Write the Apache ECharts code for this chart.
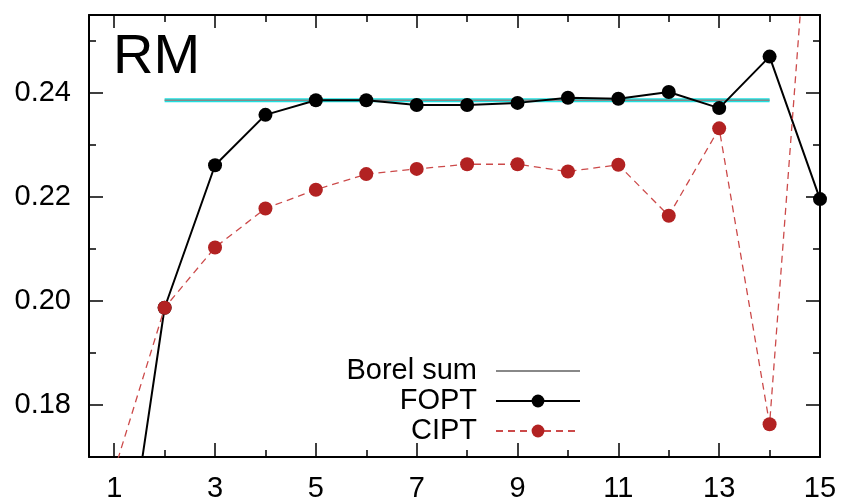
<!DOCTYPE html>
<html>
<head>
<meta charset="utf-8">
<script src="https://cdn.jsdelivr.net/npm/echarts@6/dist/echarts.min.js"></script>
<style>
html,body{margin:0;padding:0;background:#fff;}
#chart{width:842px;height:497px;}
</style>
</head>
<body>
<div id="chart"></div>
<script>
// Data
var orders = [1, 2, 3, 4, 5, 6, 7, 8, 9, 10, 11, 12, 13, 14, 15];
var foptValues = [0.1334, 0.1987, 0.2261, 0.2358, 0.2386, 0.2386, 0.2377, 0.2377, 0.2381, 0.2391, 0.2389, 0.2402, 0.2371, 0.2470, 0.2196];
var ciptValues = [0.1673, 0.1987, 0.2103, 0.2178, 0.2214, 0.2244, 0.2254, 0.2263, 0.2263, 0.2249, 0.2262, 0.2164, 0.2332, 0.1763, 0.3060];
var borelX = [2, 14];
var borelValue = 0.2386;
var xMajorTicks = [1, 3, 5, 7, 9, 11, 13, 15];
var xMinorTicks = [2, 4, 6, 8, 10, 12, 14];
var yMajorTicks = [0.18, 0.20, 0.22, 0.24];
var yMinorTicks = [0.19, 0.21, 0.23, 0.25];
var titleText = 'RM';
var seriesNames = ['Borel sum', 'FOPT', 'CIPT'];

function pairs(xs, ys) { return xs.map(function (x, i) { return [x, ys[i]]; }); }
var borelData = borelX.map(function (x) { return [x, borelValue]; });

var FONT = '"Liberation Sans", Arial, Helvetica, sans-serif';
var X_MIN = 0.5, X_MAX = 15, Y_MIN = 0.17, Y_MAX = 0.255;
var axisLineStyle = { color: '#000', width: 2 };

function xAxisDef(pos, ticks, len, labels, showLine) {
  return {
    type: 'value', position: pos, min: X_MIN, max: X_MAX,
    axisLine: { show: showLine, onZero: false, lineStyle: axisLineStyle },
    axisTick: { show: true, inside: true, length: len, customValues: ticks, lineStyle: { color: '#000', width: 1.5 } },
    axisLabel: labels ? { show: true, customValues: ticks, fontSize: 29, color: '#000', fontFamily: FONT, margin: 17, hideOverlap: false } : { show: false },
    splitLine: { show: false }
  };
}
function yAxisDef(pos, ticks, len, labels, showLine) {
  return {
    type: 'value', position: pos, min: Y_MIN, max: Y_MAX,
    axisLine: { show: showLine, onZero: false, lineStyle: axisLineStyle },
    axisTick: { show: true, inside: true, length: len, customValues: ticks, lineStyle: { color: '#000', width: 1.5 } },
    axisLabel: labels ? { show: true, customValues: ticks, fontSize: 29, color: '#000', fontFamily: FONT, margin: 18,
      formatter: function (v) { return v.toFixed(2); } } : { show: false },
    splitLine: { show: false }
  };
}

var chart = echarts.init(document.getElementById('chart'), null, { renderer: 'canvas' });
chart.setOption({
  animation: false,
  backgroundColor: '#fff',
  grid: { left: 89, top: 15, right: 22, bottom: 40, containLabel: false, outerBoundsMode: 'none' },
  xAxis: [
    xAxisDef('bottom', xMajorTicks, 14, true, true),
    xAxisDef('bottom', xMinorTicks, 7, false, false),
    xAxisDef('top', xMajorTicks, 13, false, true),
    xAxisDef('top', xMinorTicks, 7, false, false)
  ],
  yAxis: [
    yAxisDef('left', yMajorTicks, 14, true, true),
    yAxisDef('left', yMinorTicks, 7, false, false),
    yAxisDef('right', yMajorTicks, 14, false, true),
    yAxisDef('right', yMinorTicks, 7, false, false)
  ],
  graphic: [{
    type: 'text', left: 113, top: 30,
    style: { text: titleText, font: '56px ' + FONT, fill: '#000' }
  }],
  legend: {
    orient: 'vertical', align: 'right', right: 256, top: 351,
    itemWidth: 84, itemHeight: 16, itemGap: 0,
    selectedMode: false,
    textStyle: { fontSize: 29, lineHeight: 30, color: '#000', fontFamily: FONT, padding: [0, 14, 0, 0] },
    data: [
      { name: seriesNames[0], itemStyle: { opacity: 0 } },
      { name: seriesNames[1] },
      { name: seriesNames[2] }
    ]
  },
  series: [
    {
      name: 'band', type: 'line', data: borelData, showSymbol: false, symbol: 'none',
      lineStyle: { color: '#1ee0e0', width: 4 }, z: 2, silent: true
    },
    {
      name: seriesNames[0], type: 'line', data: borelData, symbol: 'none',
      itemStyle: { color: '#888' },
      lineStyle: { color: '#888', width: 1.5 }, z: 3
    },
    {
      name: seriesNames[1], type: 'line', data: pairs(orders, foptValues),
      symbol: 'circle', symbolSize: 14, showAllSymbol: true,
      itemStyle: { color: '#000' },
      lineStyle: { color: '#000', width: 2 }, z: 4
    },
    {
      name: seriesNames[2], type: 'line', data: pairs(orders, ciptValues),
      symbol: 'circle', symbolSize: 14, showAllSymbol: true,
      itemStyle: { color: '#b22222' },
      lineStyle: { color: '#cc4a4a', width: 1.3, type: [7, 5] }, z: 5
    }
  ]
});
</script>
</body>
</html>
